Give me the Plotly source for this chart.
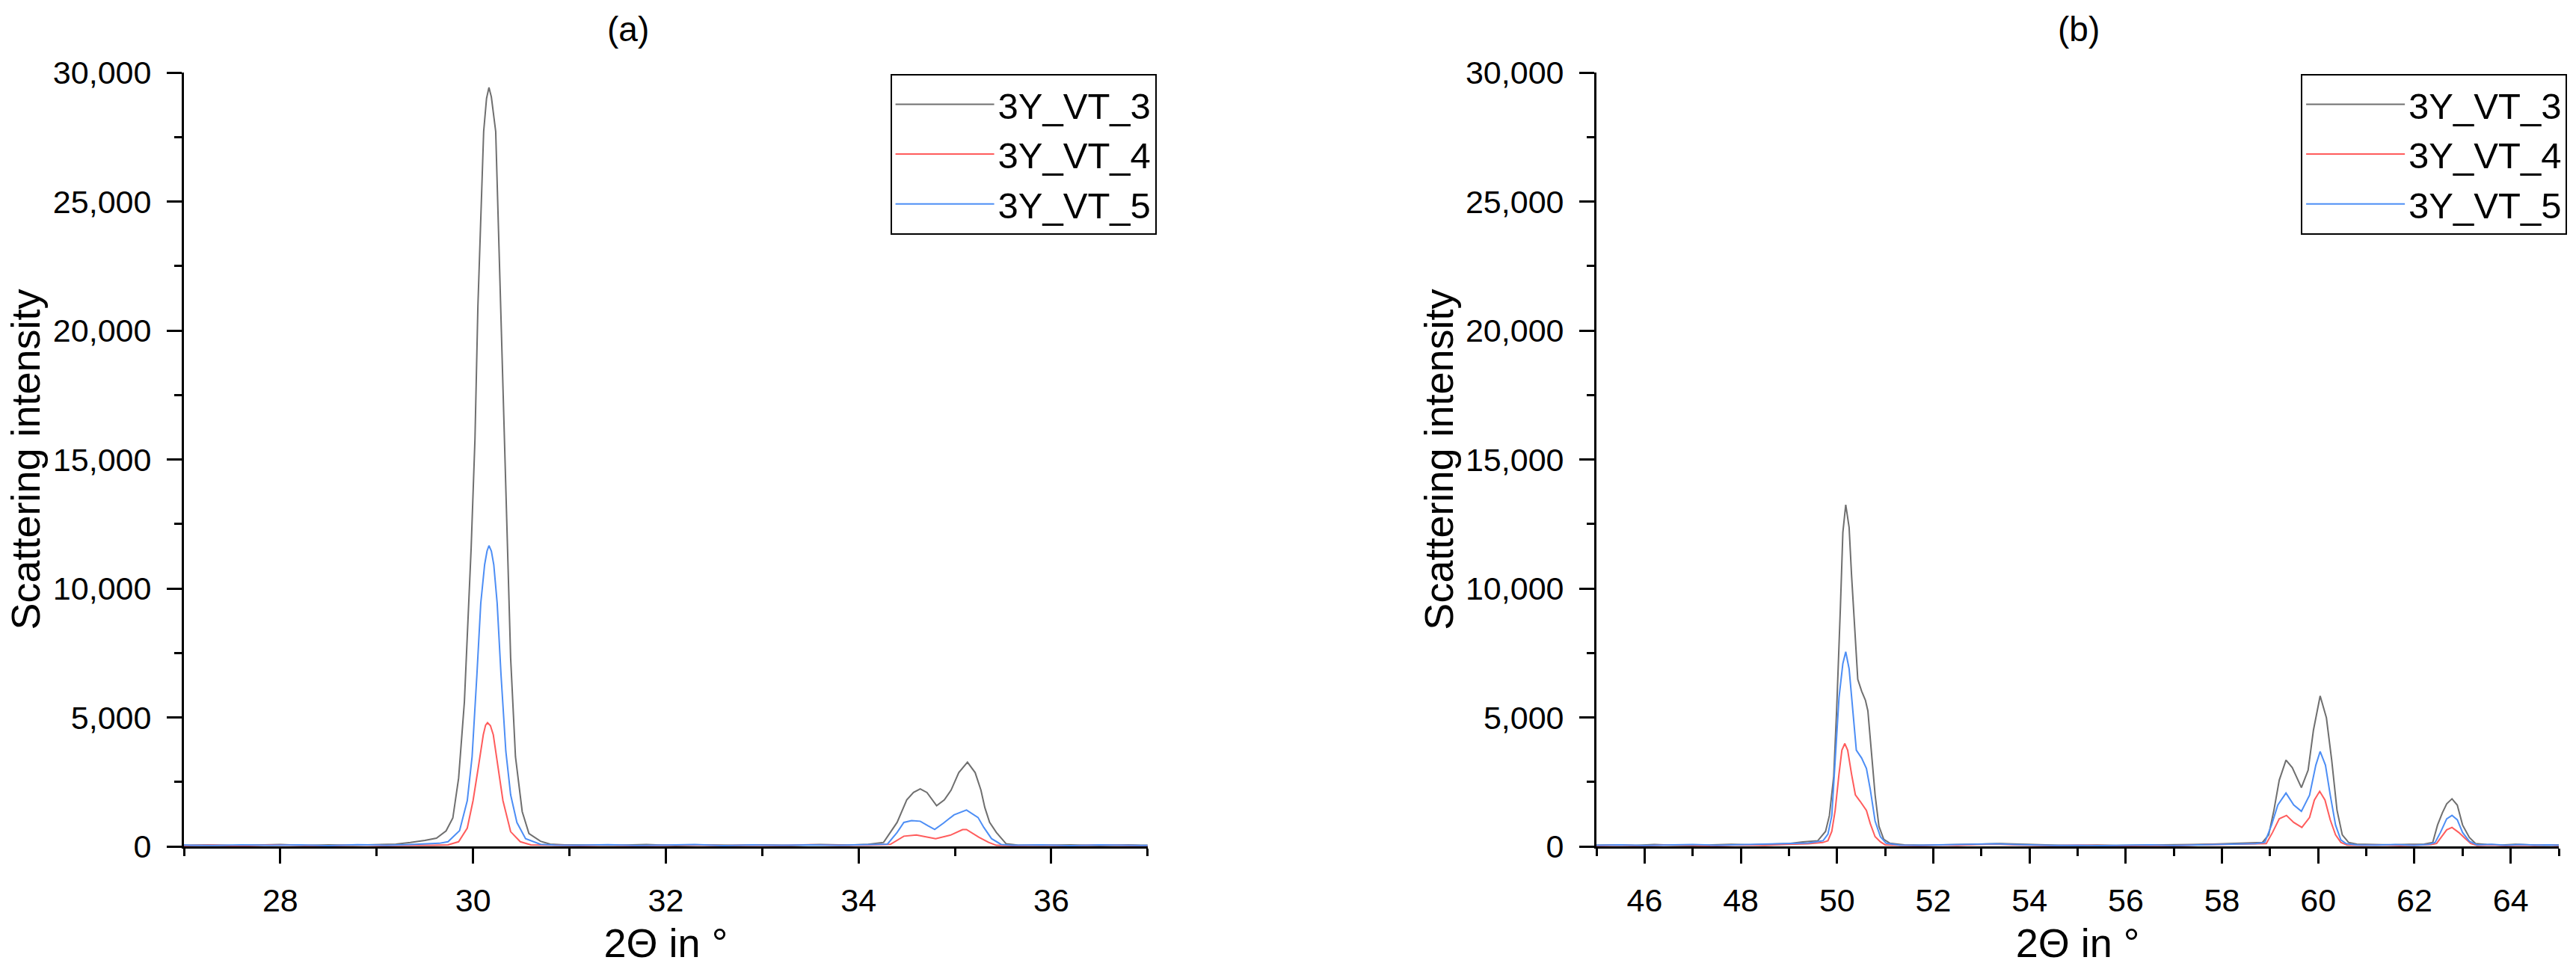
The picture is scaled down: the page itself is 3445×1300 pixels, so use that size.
import plotly.graph_objects as go

FONT = "Liberation Sans, Arial, sans-serif"

# ---- panel (a): 27-37 deg ----
a_x_vt3 = [27.0, 27.25, 27.5, 27.75, 28.0, 28.25, 28.5, 28.75, 29.0, 29.2, 29.35, 29.5, 29.62, 29.72,
           29.79, 29.85, 29.91, 29.98, 30.02, 30.05, 30.11, 30.14, 30.165, 30.19, 30.235, 30.27, 30.31,
           30.35, 30.39, 30.44, 30.51, 30.58, 30.7, 30.8, 30.95, 31.2, 31.5, 31.8, 32.1, 32.4, 32.7,
           33.0, 33.3, 33.6, 33.9, 34.1, 34.26, 34.4, 34.5, 34.57, 34.64, 34.71, 34.81, 34.89, 34.96,
           35.04, 35.13, 35.21, 35.27, 35.31, 35.36, 35.43, 35.53, 35.65, 35.9, 36.2, 36.5, 36.8, 37.0]
a_y_vt3 = [40, 60, 30, 55, 70, 35, 60, 45, 80, 90, 150, 230, 320, 600,
           1100, 2640, 5600, 11555, 15810, 20910, 27710, 29000, 29420, 29050, 27710, 23250, 17940,
           12620, 7300, 3480, 1350, 500, 200, 90, 60, 50, 40, 70, 30, 55, 40,
           60, 35, 70, 50, 80, 155, 930, 1800, 2090, 2230, 2090, 1580, 1800, 2180,
           2860, 3265, 2860, 2180, 1510, 930, 540, 105, 50, 40, 60, 30, 55, 40]

a_x_vt4 = [27.0, 27.3, 27.6, 27.9, 28.2, 28.5, 28.8, 29.1, 29.4, 29.6, 29.74, 29.85, 29.94, 30.0,
           30.054, 30.106, 30.13, 30.15, 30.18, 30.21, 30.26, 30.31, 30.39, 30.49, 30.6, 30.8, 31.1,
           31.4, 31.7, 32.0, 32.3, 32.6, 32.9, 33.2, 33.5, 33.8, 34.1, 34.33, 34.47, 34.6, 34.7,
           34.8, 34.96, 35.08, 35.12, 35.25, 35.35, 35.43, 35.6, 35.9, 36.2, 36.5, 36.8, 37.0]
a_y_vt4 = [30, 50, 20, 60, 40, 25, 55, 35, 45, 40, 60, 180, 710, 1775,
           3050, 4325, 4700, 4795, 4680, 4325, 3050, 1775, 570, 180, 60, 40, 30,
           55, 25, 45, 60, 30, 50, 35, 65, 40, 50, 80, 395, 445, 380,
           300, 445, 650, 655, 350, 155, 40, 30, 50, 25, 55, 35, 30]

a_x_vt5 = [27.0, 27.3, 27.6, 27.9, 28.2, 28.5, 28.8, 29.1, 29.35, 29.55, 29.65, 29.74, 29.86, 29.94,
           29.99, 30.04, 30.08, 30.12, 30.145, 30.165, 30.19, 30.215, 30.25, 30.29, 30.34, 30.39,
           30.455, 30.545, 30.7, 30.85, 31.1, 31.4, 31.7, 32.0, 32.3, 32.6, 32.9, 33.2, 33.5, 33.8,
           34.1, 34.3, 34.4, 34.47, 34.55, 34.64, 34.72, 34.79, 34.88, 34.99, 35.12, 35.24, 35.3,
           35.38, 35.48, 35.6, 35.9, 36.2, 36.5, 36.8, 37.0]
a_y_vt5 = [50, 35, 60, 40, 55, 30, 65, 45, 70, 90, 120, 180, 610, 1775,
           3480, 6660, 9430, 10920, 11450, 11660, 11450, 10920, 9430, 6660, 3690, 2000,
           925, 300, 80, 50, 40, 65, 35, 50, 70, 30, 55, 40, 60, 45,
           70, 90, 540, 930, 1000, 975, 800, 655, 900, 1220, 1410, 1120, 735,
           300, 75, 40, 55, 30, 60, 40, 35]

# ---- panel (b): 45-65 deg ----
b_x_vt3 = [45.0, 45.4, 45.8, 46.2, 46.6, 47.0, 47.4, 47.8, 48.2, 48.6, 49.0, 49.29, 49.6, 49.76,
           49.84, 49.93, 49.99, 50.07, 50.12, 50.18, 50.25, 50.3, 50.37, 50.43, 50.51, 50.59, 50.64,
           50.71, 50.79, 50.87, 50.97, 51.1, 51.4, 51.8, 52.2, 52.6, 53.0, 53.4, 53.8, 54.2, 54.6,
           55.0, 55.4, 55.8, 56.2, 56.6, 57.0, 57.4, 57.8, 58.2, 58.5, 58.7, 58.84, 58.97, 59.08,
           59.19, 59.33, 59.46, 59.65, 59.79, 59.9, 60.04, 60.17, 60.28, 60.39, 60.5, 60.63, 60.8,
           61.1, 61.5, 61.9, 62.2, 62.38, 62.48, 62.58, 62.67, 62.78, 62.89, 63.0, 63.14, 63.27,
           63.5, 63.8, 64.1, 64.4, 64.7, 65.0]
b_y_vt3 = [40, 60, 35, 70, 45, 30, 55, 80, 60, 90, 110, 175, 220, 580,
           1190, 2715, 5255, 9320, 12170, 13240, 12370, 10540, 8305, 6475, 6020, 5660, 5255,
           3730, 2000, 780, 270, 120, 60, 40, 50, 70, 90, 110, 80, 60, 40,
           30, 50, 35, 40, 60, 45, 70, 90, 110, 120, 140, 155, 445, 1410,
           2570, 3345, 3055, 2280, 2955, 4500, 5835, 4985, 3345, 1410, 445, 155, 90,
           70, 60, 80, 90, 155, 830, 1300, 1650, 1845, 1600, 830, 350, 110,
           70, 50, 80, 60, 40, 50]

b_x_vt4 = [45.0, 45.5, 46.0, 46.5, 47.0, 47.5, 48.0, 48.5, 49.0, 49.4, 49.7, 49.81, 49.89, 49.96,
           50.04, 50.1, 50.16, 50.22, 50.3, 50.38, 50.48, 50.61, 50.69, 50.79, 50.9, 51.0, 51.3,
           51.7, 52.1, 52.5, 52.9, 53.3, 53.7, 54.1, 54.5, 55.0, 55.5, 56.0, 56.5, 57.0, 57.5,
           58.0, 58.4, 58.75, 58.92, 59.05, 59.19, 59.34, 59.49, 59.66, 59.82, 59.92, 60.03, 60.14,
           60.25, 60.36, 60.47, 60.6, 60.9, 61.3, 61.7, 62.1, 62.35, 62.46, 62.57, 62.67, 62.78,
           62.92, 63.06, 63.17, 63.3, 63.6, 63.9, 64.2, 64.5, 64.8, 65.0]
b_y_vt4 = [30, 50, 25, 55, 40, 30, 60, 45, 80, 100, 150, 220, 580, 1390,
           2810, 3730, 3985, 3730, 2810, 2000, 1745, 1390, 880, 375, 175, 60, 40,
           30, 55, 40, 70, 90, 60, 40, 30, 50, 35, 25, 45, 30, 55,
           70, 80, 90, 110, 540, 1070, 1200, 930, 735, 1120, 1800, 2135, 1800,
           1030, 445, 155, 50, 40, 60, 35, 50, 70, 110, 395, 640, 735,
           540, 300, 110, 40, 60, 30, 50, 35, 55, 30]

b_x_vt5 = [45.0, 45.5, 46.0, 46.5, 47.0, 47.5, 48.0, 48.5, 49.0, 49.4, 49.71, 49.81, 49.89, 49.96,
           50.04, 50.12, 50.18, 50.25, 50.33, 50.4, 50.51, 50.61, 50.69, 50.79, 50.9, 51.02, 51.3,
           51.7, 52.1, 52.5, 52.9, 53.3, 53.7, 54.1, 54.5, 55.0, 55.5, 56.0, 56.5, 57.0, 57.5,
           58.0, 58.4, 58.7, 58.89, 59.03, 59.16, 59.33, 59.49, 59.65, 59.82, 59.95, 60.04, 60.15,
           60.25, 60.36, 60.47, 60.58, 60.8, 61.2, 61.6, 62.0, 62.3, 62.43, 62.54, 62.67, 62.78,
           62.89, 63.0, 63.14, 63.3, 63.6, 63.9, 64.2, 64.5, 64.8, 65.0]
b_y_vt5 = [45, 60, 35, 50, 70, 40, 65, 90, 100, 130, 220, 475, 1190, 3220,
           5765, 7090, 7545, 6885, 5255, 3730, 3425, 3020, 2205, 985, 375, 120, 50,
           40, 60, 80, 90, 100, 70, 50, 35, 45, 30, 40, 55, 35, 60,
           80, 90, 110, 155, 830, 1605, 2070, 1605, 1360, 1990, 3150, 3680, 3150,
           1990, 830, 250, 110, 60, 50, 70, 45, 80, 155, 540, 1070, 1200,
           1030, 540, 200, 60, 80, 40, 70, 50, 60, 40]

names = ["3Y_VT_3", "3Y_VT_4", "3Y_VT_5"]
colors = ["#6f6f6f", "#ff5c5c", "#4d8ef5"]

panel_a = [(a_x_vt3, a_y_vt3), (a_x_vt4, a_y_vt4), (a_x_vt5, a_y_vt5)]
panel_b = [(b_x_vt3, b_y_vt3), (b_x_vt4, b_y_vt4), (b_x_vt5, b_y_vt5)]

fig = go.Figure()

for (x, y), name, color in zip(panel_a, names, colors):
    fig.add_trace(go.Scatter(x=x, y=y, mode="lines", name=name,
                             line=dict(color=color, width=2),
                             xaxis="x", yaxis="y", legend="legend"))

for (x, y), name, color in zip(panel_b, names, colors):
    fig.add_trace(go.Scatter(x=x, y=y, mode="lines", name=name,
                             line=dict(color=color, width=2),
                             xaxis="x2", yaxis="y2", legend="legend2"))

axis_common = dict(
    showline=True, linecolor="black", linewidth=3,
    ticks="outside", ticklen=20, tickwidth=3, tickcolor="black",
    showgrid=False, zeroline=False,
    tickfont=dict(family=FONT, size=43, color="black"),
    ticklabelstandoff=12,
)

x_common = dict(axis_common, dtick=2, tick0=0,
                minor=dict(dtick=1, ticks="outside", ticklen=10, tickwidth=3, tickcolor="black"),
                title=dict(text="2\u0398 in \u00b0", font=dict(family=FONT, size=54, color="black"),
                           standoff=16))
y_common = dict(axis_common, range=[0, 30000], dtick=5000, tickformat=",d",
                minor=dict(dtick=2500, ticks="outside", ticklen=10, tickwidth=3, tickcolor="black"),
                title=dict(text="Scattering intensity", font=dict(family=FONT, size=54, color="black"),
                           standoff=0))

legend_common = dict(
    font=dict(family=FONT, size=49, color="black"),
    bgcolor="white", bordercolor="black", borderwidth=2,
    xanchor="right", yanchor="top", y=0.998,
    itemwidth=132, tracegroupgap=0,
)

fig.update_layout(
    width=3445, height=1300, autosize=False,
    margin=dict(l=246, r=20, t=97, b=168),
    plot_bgcolor="white", paper_bgcolor="white",
    font=dict(family=FONT, size=43, color="black"),
    xaxis=dict(x_common, domain=[0, 0.4058], range=[27, 37], anchor="y"),
    yaxis=dict(y_common, domain=[0, 1], anchor="x"),
    xaxis2=dict(x_common, domain=[0.5948, 1], range=[45, 65], anchor="y2"),
    yaxis2=dict(y_common, domain=[0, 1], anchor="x2"),
    legend=dict(legend_common, x=0.4095),
    legend2=dict(legend_common, x=1.0035),
    annotations=[
        dict(text="(a)", x=0.187, y=1, xref="paper", yref="paper", xanchor="center",
             yanchor="bottom", yshift=30, showarrow=False,
             font=dict(family=FONT, size=46, color="black")),
        dict(text="(b)", x=0.798, y=1, xref="paper", yref="paper", xanchor="center",
             yanchor="bottom", yshift=30, showarrow=False,
             font=dict(family=FONT, size=46, color="black")),
    ],
)

fig.write_html("out.html", config={"displayModeBar": False},
               post_script="document.body.style.margin='0';")
